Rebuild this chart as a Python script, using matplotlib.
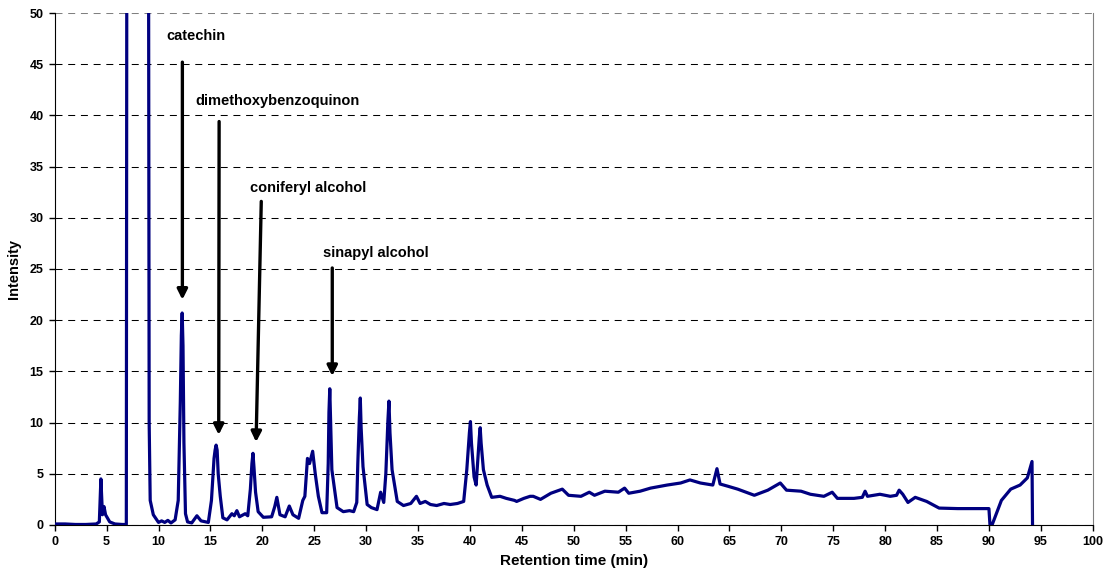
import numpy as np
import matplotlib
matplotlib.use("Agg")
import matplotlib.pyplot as plt

plt.rcParams['font.family'] = ['Liberation Sans', 'DejaVu Sans']
plt.rcParams['font.weight'] = 'bold'

# chromatogram trace (time [min], intensity)
rt = [0.0, 1.0, 2.0, 3.0, 4.0, 4.3, 4.45, 4.6, 4.75, 4.9, 5.3, 5.8, 6.5, 6.9,
      6.95, 7.05, 8.0, 9.0, 9.05, 9.1, 9.2, 9.5, 10.0, 10.3, 10.6, 10.9, 11.2,
      11.6, 11.9, 12.1, 12.2, 12.28, 12.36, 12.45, 12.6, 12.8, 13.2, 13.7, 14.1,
      14.8, 15.1, 15.35, 15.45, 15.55, 15.65, 15.75, 15.95, 16.2, 16.6, 17.07,
      17.3, 17.55, 17.8, 18.35, 18.6, 18.85, 19.0, 19.1, 19.2, 19.35, 19.6, 20.1,
      20.9, 21.2, 21.4, 21.7, 22.2, 22.6, 22.95, 23.5, 23.9, 24.1, 24.35, 24.55,
      24.85, 25.1, 25.4, 25.75, 26.2, 26.35, 26.42, 26.5, 26.58, 26.7, 27.2,
      27.8, 28.4, 28.8, 29.1, 29.2, 29.35, 29.44, 29.52, 29.7, 30.1, 30.5, 31.05,
      31.4, 31.7, 31.9, 32.1, 32.2, 32.3, 32.5, 33.0, 33.6, 34.3, 34.85, 35.2,
      35.7, 36.2, 36.8, 37.5, 38.1, 38.8, 39.4, 39.7, 39.95, 40.05, 40.15, 40.4,
      40.6, 40.9, 40.99, 41.08, 41.3, 41.66, 42.1, 42.9, 43.5, 44.3, 44.5, 45.2,
      45.8, 46.1, 46.8, 47.8, 48.9, 49.5, 50.7, 51.5, 52.0, 53.0, 54.3, 54.9,
      55.3, 56.4, 57.4, 59.0, 60.3, 61.2, 62.2, 63.4, 63.8, 64.1, 64.8, 65.8,
      67.4, 68.7, 69.9, 70.5, 71.9, 72.8, 74.1, 74.9, 75.4, 77.0, 77.8, 78.07,
      78.3, 79.5, 80.5, 81.1, 81.35, 81.7, 82.2, 82.9, 84.0, 85.2, 87.0, 88.5,
      90.0, 90.1, 90.3, 91.2, 92.1, 93.0, 93.7, 94.15, 94.2]
intensity = [0.1, 0.1, 0.05, 0.05, 0.1, 0.3, 4.5, 1.0, 1.8, 1.0, 0.3, 0.1, 0.05, 0.05,
             60, 80, 120, 80, 50, 10, 2.4, 1.0, 0.25, 0.4, 0.25, 0.45, 0.2,
             0.5, 2.4, 12.0, 18.5, 20.7, 17.5, 8.0, 1.1, 0.3, 0.2, 0.9, 0.4,
             0.25, 2.4, 6.5, 7.3, 7.8, 7.3, 5.0, 2.8, 0.7, 0.5, 1.1,
             0.9, 1.4, 0.8, 1.1, 0.9, 3.5, 6.0, 7.0, 5.6, 3.2, 1.3, 0.75,
             0.8, 1.8, 2.7, 1.0, 0.8, 1.85, 1.0, 0.65, 2.4, 2.8, 6.5, 6.0,
             7.2, 5.0, 2.8, 1.2, 1.2, 6.0, 11.0, 13.3, 10.0, 5.4, 1.7,
             1.3, 1.4, 1.3, 2.2, 6.0, 10.5, 12.4, 9.5, 5.7, 2.0, 1.7, 1.5,
             3.2, 2.2, 5.0, 10.2, 12.1, 9.0, 5.4, 2.3, 1.9, 2.1, 2.8, 2.1,
             2.3, 2.0, 1.9, 2.1, 2.0, 2.1, 2.3, 5.4, 9.0, 10.1, 8.0, 4.7,
             3.9, 8.5, 9.5, 8.0, 5.4, 3.9, 2.7, 2.8, 2.6, 2.4, 2.3, 2.6,
             2.8, 2.8, 2.5, 3.1, 3.5, 2.9, 2.8, 3.2, 2.9, 3.3, 3.2, 3.6,
             3.1, 3.3, 3.6, 3.9, 4.1, 4.4, 4.1, 3.9, 5.5, 4.0, 3.8, 3.5,
             2.9, 3.4, 4.1, 3.4, 3.3, 3.0, 2.8, 3.2, 2.6, 2.6, 2.7, 3.3,
             2.8, 3.0, 2.8, 2.9, 3.4, 3.0, 2.2, 2.7, 2.3, 1.65, 1.6, 1.6,
             1.6, 0.0, 0.0, 2.4, 3.5, 3.9, 4.6, 6.2, 0.0]

# peak labels
compounds = ['catechin', 'dimethoxybenzoquinon', 'coniferyl alcohol', 'sinapyl alcohol']

fig = plt.figure(figsize=(11.05, 5.73), dpi=100)
ax = fig.add_axes([0.0495, 0.0838, 0.9394, 0.8935])

ax.plot(rt, intensity, color='#000080', lw=2.3, zorder=3)

ax.set_xlim(0, 100)
ax.set_ylim(0, 50)
ax.set_xticks(np.arange(0, 101, 5))
ax.set_yticks(np.arange(0, 51, 5))
ax.tick_params(direction='out', length=4, width=1, labelsize=9, pad=4)
for lab in ax.get_xticklabels() + ax.get_yticklabels():
    lab.set_fontweight('bold')

ax.yaxis.grid(True, color='black', lw=0.75, ls=(0, (6.7, 5.5)), zorder=1)
ax.yaxis.get_gridlines()[-1].set_color('#808080')

ax.spines['top'].set_visible(False)
ax.spines['right'].set_color('#808080')
ax.spines['left'].set_color('black')
ax.spines['bottom'].set_color('black')

ax.set_xlabel('Retention time (min)', fontsize=11, fontweight='bold', labelpad=4)
ax.set_ylabel('Intensity', fontsize=10.5, fontweight='bold', labelpad=6)

# text spots and arrows (tail -> head)
text_xy = [(10.8, 47.8), (13.53, 41.4), (18.83, 32.9), (25.84, 26.6)]
arrows = [((12.3, 45.2), (12.3, 22.0)),
          ((15.84, 39.4), (15.8, 8.8)),
          ((19.9, 31.6), (19.4, 8.1)),
          ((26.74, 25.1), (26.74, 14.55))]

for name, (tx, ty), (tail, head) in zip(compounds, text_xy, arrows):
    ax.text(tx, ty, name, fontsize=10.5, fontweight='bold', ha='left', va='center', zorder=4)
    ax.annotate('', xy=head, xytext=tail,
                arrowprops=dict(arrowstyle='-|>', lw=2.4, color='black',
                                mutation_scale=15, shrinkA=0, shrinkB=0),
                zorder=4)

fig.savefig('out.png', dpi=100)
